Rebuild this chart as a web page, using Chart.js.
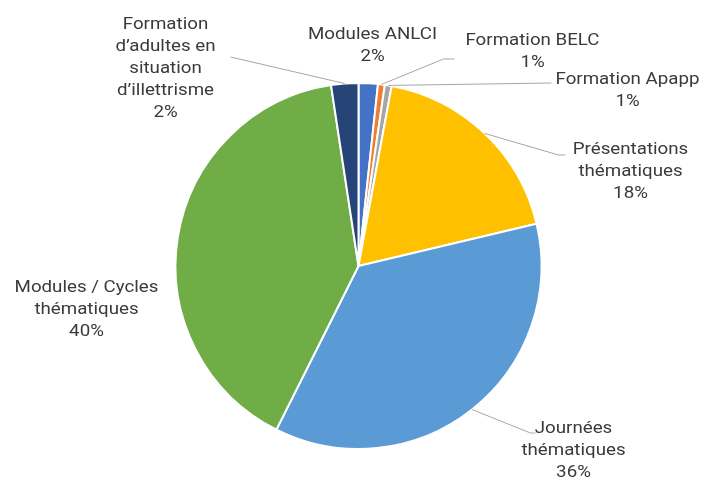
<!DOCTYPE html>
<html>
<head>
<meta charset="utf-8">
<script src="https://cdn.jsdelivr.net/npm/chart.js@4/dist/chart.umd.min.js"></script>
<style>
  body { margin: 0; background: #fff; }
  #wrap { width: 706px; height: 481px; position: relative; }
</style>
</head>
<body>
<div id="wrap"><canvas id="myChart" width="706" height="481"></canvas></div>
<script>
// data (share of activity, %)
var categories = [
  ['Modules ANLCI'],
  ['Formation BELC'],
  ['Formation Apapp'],
  ['Présentations', 'thématiques'],
  ['Journées', 'thématiques'],
  ['Modules / Cycles', 'thématiques'],
  ['Formation', 'd\u2019adultes en', 'situation', 'd\u2019illettrisme']
];
var values = [1.7, 0.6, 0.6, 18.4, 36.1, 40.2, 2.4];
var colors = ['#4472C4', '#ED7D31', '#A5A5A5', '#FFC000', '#5B9BD5', '#70AD47', '#264478'];

// where each label sits, relative to pie centre (dx, dy) + optional leader bend
var labelPos = [
  { dx: 14,   dy: -220 },
  { dx: 174,  dy: -214, line: [[85, -207], [96, -207]] },
  { dx: 269,  dy: -175, line: [[193, -183]] },
  { dx: 272,  dy: -94,  line: [[200, -111], [207, -111]] },
  { dx: 215,  dy: 185,  line: [[172, 167], [177, 167]] },
  { dx: -272, dy: 44 },
  { dx: -193, dy: -197, line: [[-128, -209]] }
];

var pieLabels = {
  id: 'pieLabels',
  afterDraw: function(chart) {
    var c = chart.ctx;
    var meta = chart.getDatasetMeta(0);
    c.save();
    c.font = '16px Roboto';
    c.fillStyle = '#3a3a3a';
    c.textAlign = 'center';
    c.textBaseline = 'middle';
    var lh = 22;
    meta.data.forEach(function(arc, i) {
      var p = arc.getProps(['x', 'y', 'startAngle', 'endAngle', 'outerRadius'], true);
      var cx = p.x, cy = p.y;
      var pos = labelPos[i];
      if (pos.line) {
        var mid = (p.startAngle + p.endAngle) / 2;
        c.strokeStyle = '#A6A6A6';
        c.lineWidth = 1;
        c.beginPath();
        c.moveTo(cx + Math.cos(mid) * p.outerRadius, cy + Math.sin(mid) * p.outerRadius);
        pos.line.forEach(function(pt) { c.lineTo(cx + pt[0], cy + pt[1]); });
        c.stroke();
      }
      var lines = categories[i].concat([Math.round(values[i]) + '%']);
      var y0 = cy + pos.dy - (lines.length - 1) * lh / 2;
      lines.forEach(function(t, k) {
        // reference text is a bit wider than plain Roboto
        c.save();
        c.translate(cx + pos.dx, y0 + k * lh);
        c.scale(1.17, 1);
        c.fillText(t, 0, 0);
        c.restore();
      });
    });
    c.restore();
  }
};

new Chart(document.getElementById('myChart'), {
  type: 'pie',
  data: {
    labels: categories.map(function(l) { return l.join(' '); }),
    datasets: [{
      data: values,
      backgroundColor: colors,
      borderColor: '#ffffff',
      borderWidth: 2
    }]
  },
  options: {
    responsive: false,
    animation: false,
    layout: { padding: { top: 82, bottom: 31, left: 100, right: 89 } },
    plugins: {
      legend: { display: false },
      tooltip: { enabled: false }
    }
  },
  plugins: [pieLabels]
});
</script>
</body>
</html>
